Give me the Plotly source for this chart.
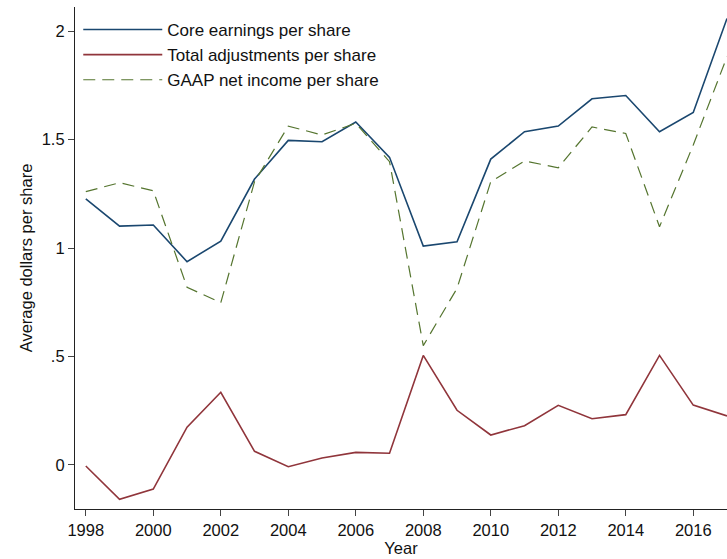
import plotly.graph_objects as go

years = list(range(1998, 2018))
core_eps = [1.227, 1.101, 1.106, 0.937, 1.032, 1.318, 1.496, 1.490, 1.581, 1.418,
            1.009, 1.029, 1.410, 1.536, 1.562, 1.688, 1.703, 1.536, 1.625, 2.058]
adjustments = [-0.005, -0.158, -0.111, 0.174, 0.335, 0.063, -0.008, 0.032, 0.058, 0.054,
               0.505, 0.252, 0.138, 0.181, 0.275, 0.213, 0.232, 0.505, 0.276, 0.226]
gaap_eps = [1.260, 1.301, 1.264, 0.819, 0.748, 1.306, 1.562, 1.521, 1.575, 1.398,
            0.550, 0.814, 1.306, 1.401, 1.370, 1.558, 1.528, 1.098, 1.475, 1.882]

series_names = ["Core earnings per share", "Total adjustments per share", "GAAP net income per share"]
y_tickvals = [0, 0.5, 1, 1.5, 2]
y_ticktext = ["0", ".5", "1", "1.5", "2"]
x_tickvals = list(range(1998, 2017, 2))

FONT = "Liberation Sans, Arial, Helvetica, sans-serif"
FS = 16.5

fig = go.Figure()
fig.add_trace(go.Scatter(x=years, y=core_eps, mode="lines", name=series_names[0],
                         line=dict(color="#1a476f", width=1.6)))
fig.add_trace(go.Scatter(x=years, y=adjustments, mode="lines", name=series_names[1],
                         line=dict(color="#90353b", width=1.6)))
fig.add_trace(go.Scatter(x=years, y=gaap_eps, mode="lines", name=series_names[2],
                         line=dict(color="#55752f", width=1.2, dash="12px,7px")))

fig.update_layout(
    width=727, height=559,
    margin=dict(l=75, r=0, t=7, b=50),
    paper_bgcolor="white", plot_bgcolor="white",
    font=dict(family=FONT, size=FS, color="#111111"),
    showlegend=True,
    legend=dict(x=0.005, y=0.99, xanchor="left", yanchor="top",
                bgcolor="rgba(0,0,0,0)", font=dict(size=17, family=FONT),
                itemwidth=79, tracegroupgap=0),
    xaxis=dict(range=[1997.68, 2017.0], tickmode="array", tickvals=x_tickvals,
               showgrid=False, zeroline=False, showline=True, linecolor="#222222",
               linewidth=1.2, ticks="outside", ticklen=6, tickcolor="#444444",
               tickfont=dict(size=FS, family=FONT),
               title=dict(text="Year", font=dict(size=FS, family=FONT), standoff=2)),
    yaxis=dict(range=[-0.203, 2.111], tickmode="array", tickvals=y_tickvals,
               ticktext=y_ticktext, showgrid=False, zeroline=False, showline=True,
               linecolor="#222222", linewidth=1.2, ticks="outside", ticklen=6,
               tickcolor="#444444", tickfont=dict(size=FS, family=FONT),
               title=dict(text="Average dollars per share", font=dict(size=FS, family=FONT),
                          standoff=4)),
)

fig.write_html("out.html")
